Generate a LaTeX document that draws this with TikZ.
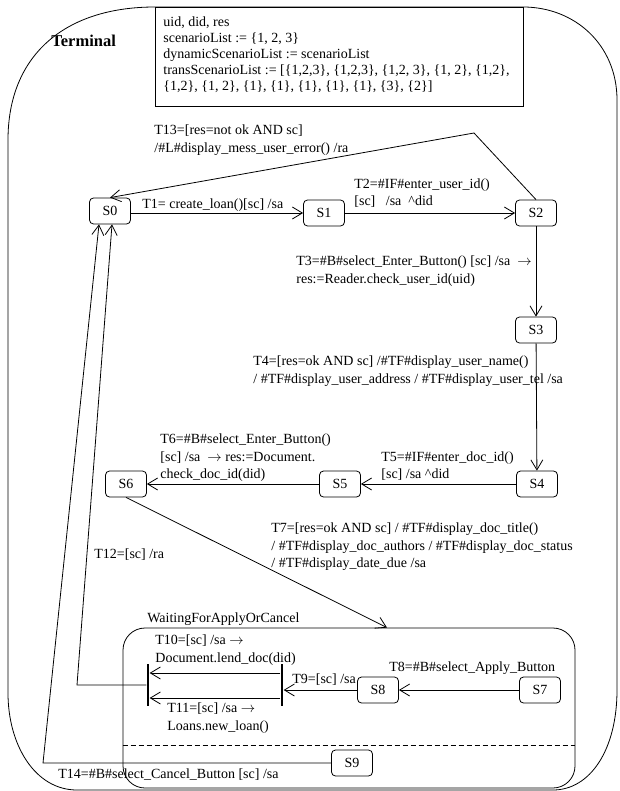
\documentclass[tikz,border=0pt]{standalone}
\usepackage{fontspec}
\setmainfont{Liberation Serif}
\usetikzlibrary{arrows.meta}

\begin{document}
\begin{tikzpicture}[x=1pt,y=-1pt,line width=0.8pt,font=\fontsize{14}{17.5}\selectfont]
	\tikzstyle{every node}+=[inner sep=0pt]
	\tikzstyle{state}=[draw,rounded corners=4pt,minimum width=41pt,minimum height=26pt]
	\tikzstyle{trans}=[-{Straight Barb[length=10pt,width=12pt]}]
	\tikzstyle{lbl}=[anchor=west,align=left]
	\tikzstyle{forkbar}=[fill,minimum width=2.5pt,minimum height=42pt]
	\useasboundingbox (0,0) rectangle (619,791);
	% outer state
	\draw (155,7) -- (523,7) .. controls (575,7) and (617,45) .. (617,100)
		-- (617,690) .. controls (617,750) and (590,790) .. (553,790)
		-- (77,790) .. controls (35,790) and (8,745) .. (8,693)
		-- (8,140) .. controls (8,55) and (65,7) .. (155,7);
	\node[lbl,font=\fontsize{16.5}{20}\selectfont\bfseries] (terminal) at (51,41) {Terminal};
	\node[draw,anchor=north west,minimum width=368pt,minimum height=99pt] (vars) at (155,7) {};
	\node[lbl,font=\fontsize{14}{16}\selectfont] (varlist) at (163,55) {uid, did, res\\
		scenarioList := \{1, 2, 3\}\\
		dynamicScenarioList := scenarioList\\
		transScenarioList := {[}\{1,2,3\}, \{1,2,3\}, \{1,2, 3\}, \{1, 2\}, \{1,2\},\\
		\{1,2\}, \{1, 2\}, \{1\}, \{1\}, \{1\}, \{1\}, \{1\}, \{3\}, \{2\}]};
	% states
	\node[state] (S0) at (110,211) {S0};
	\node[state] (S1) at (324,213) {S1};
	\node[state] (S2) at (536,213) {S2};
	\node[state] (S3) at (536,330) {S3};
	\node[state] (S4) at (537,484) {S4};
	\node[state] (S5) at (340,484) {S5};
	\node[state] (S6) at (126,484) {S6};
	% WaitingForApplyOrCancel
	\node[draw,rounded corners=22pt,minimum width=452pt,minimum height=160pt] (waiting) at (349,708) {};
	\node[lbl] (waitname) at (147,619) {WaitingForApplyOrCancel};
	\draw[dash pattern=on 5pt off 3pt] (waiting.west |- 0,745) -- (waiting.east |- 0,745);
	\node[state] (S7) at (540,690) {S7};
	\node[state] (S8) at (378,690) {S8};
	\node[state] (S9) at (352,763) {S9};
	\node[forkbar] (joinL) at (148,685) {};
	\node[forkbar] (joinR) at (282,685) {};
	% bends
	\coordinate (c13) at (474,133);
	\coordinate (c12) at (77,685);
	\coordinate (c14) at (43,763);
	\coordinate (t7end) at (waiting.north -| 387,0);
	% transitions
	\draw[trans] (S0.east |- S1) -- (S1.west);
	\draw[trans] (S1) -- (S2);
	\draw[trans] (S2) -- (S3);
	\draw[trans] (S3) -- (S4);
	\draw[trans] (S4) -- (S5);
	\draw[trans] (S5) -- (S6);
	\draw[trans] (S6.south) -- (t7end);
	\draw[trans] (S7) -- (S8);
	\draw[trans] (S8) -- (joinR.east |- S8);
	\draw[trans] (joinR.west |- 0,673) -- (joinL.east |- 0,673);
	\draw[trans] (joinR.west |- 0,698) -- (joinL.east |- 0,698);
	\draw[trans] (joinL.west) -- (c12) -- ([xshift=2pt]S0.south);
	\draw[trans] (S9) -- (c14) -- ([xshift=-11pt]S0.south);
	\draw[trans] (S2.north) -- (c13) -- (S0.north);
	% labels
	\node[lbl] (lblT13) at (154,140) {T13=[res=not ok AND sc]\\ /\#L\#display\_mess\_user\_error() /ra};
	\node[lbl] (lblT1) at (142,205) {T1= create\_loan()[sc] /sa};
	\node[lbl] (lblT2) at (354,193) {T2=\#IF\#enter\_user\_id()\\ {[sc]}\ \ \ /sa\ \ \textasciicircum did};
	\node[lbl] (lblT3) at (296,271) {T3=\#B\#select\_Enter\_Button() [sc] /sa\ \ $\rightarrow$\\ res:=Reader.check\_user\_id(uid)};
	\node[lbl] (lblT4) at (253,371) {T4=[res=ok AND sc] /\#TF\#display\_user\_name()\\ / \#TF\#display\_user\_address / \#TF\#display\_user\_tel /sa};
	\node[lbl] (lblT5) at (381,466) {T5=\#IF\#enter\_doc\_id()\\ {[sc]} /sa \textasciicircum did};
	\node[lbl] (lblT6) at (160,458) {T6=\#B\#select\_Enter\_Button()\\ {[sc]} /sa\ \ $\rightarrow$ res:=Document.\\ check\_doc\_id(did)};
	\node[lbl] (lblT7) at (271,547) {T7=[res=ok AND sc] / \#TF\#display\_doc\_title()\\ / \#TF\#display\_doc\_authors / \#TF\#display\_doc\_status\\ / \#TF\#display\_date\_due /sa};
	\node[lbl] (lblT12) at (94,555) {T12=[sc] /ra};
	\node[lbl] (lblT10) at (155,650) {T10=[sc] /sa $\rightarrow$\\ Document.lend\_doc(did)};
	\node[lbl] (lblT11) at (167,718) {T11=[sc] /sa $\rightarrow$\\ Loans.new\_loan()};
	\node[lbl] (lblT8) at (389,668) {T8=\#B\#select\_Apply\_Button};
	\node[lbl] (lblT9) at (292,680) {T9=[sc] /sa};
	\node[lbl] (lblT14) at (58,775) {T14=\#B\#select\_Cancel\_Button [sc] /sa};
\end{tikzpicture}
\end{document}
